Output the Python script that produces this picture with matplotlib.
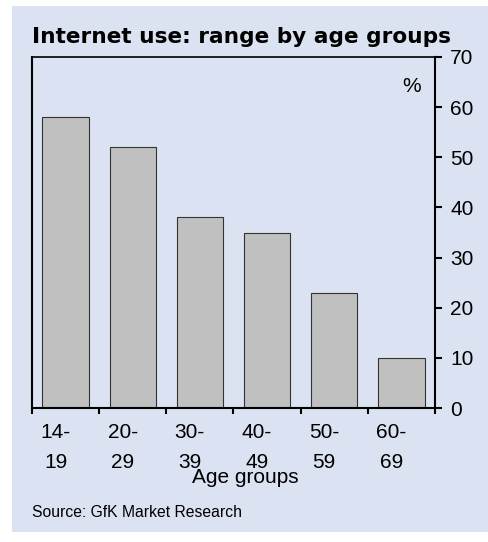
import numpy as np
import matplotlib.pyplot as plt
from matplotlib.patches import Rectangle

# Internet use by age group (GfK)
age_groups = ["14-\n19", "20-\n29", "30-\n39", "40-\n49", "50-\n59", "60-\n69"]
usage_pct = [58, 52, 38, 35, 23, 10]

bg = "#dbe2f1"
plt.rcParams["font.family"] = ["Liberation Sans", "DejaVu Sans"]

fig = plt.figure(figsize=(4.88, 5.42), dpi=100)
fig.patch.set_facecolor("white")
# light blue panel behind everything
fig.patches.append(Rectangle((12 / 488, 10 / 542), 476 / 488, 526 / 542,
                             transform=fig.transFigure, facecolor=bg,
                             edgecolor="none", zorder=-10))

ax = fig.add_axes([32 / 488, 134 / 542, 403 / 488, 351 / 542])
ax.set_facecolor(bg)

x = np.arange(len(usage_pct))
ax.bar(x, usage_pct, width=0.69, color="#c0c0c0", edgecolor="#333333", linewidth=0.8)

ax.set_xlim(-0.5, len(usage_pct) - 0.5)
ax.set_ylim(0, 70)

# y axis on the right
ax.yaxis.tick_right()
ax.set_yticks(range(0, 71, 10))
ax.tick_params(axis="y", direction="out", length=5, width=1.5, pad=6, labelsize=15)

# x: tick marks on group boundaries, labels in between
ax.set_xticks(np.arange(-0.5, len(usage_pct)), labels=[""] * (len(usage_pct) + 1))
ax.set_xticks(x - 0.15, labels=age_groups, minor=True)
ax.tick_params(axis="x", which="major", direction="out", length=4, width=1.5)
ax.tick_params(axis="x", which="minor", length=0, pad=11, labelsize=15)
for lbl in ax.get_xticklabels(minor=True):
    lbl.set_linespacing(1.7)

for s in ax.spines.values():
    s.set_linewidth(1.5)
ax.spines["top"].set_linewidth(1.2)

ax.set_xlabel("Age groups", fontsize=15)
ax.xaxis.set_label_coords(0.53, -0.172)
ax.xaxis.label.set_va("top")
ax.text(0.943, 0.917, "%", transform=ax.transAxes, fontsize=15, ha="center", va="center")

fig.text(32 / 488, 1 - 43 / 542, "Internet use: range by age groups",
         fontsize=15.6, fontweight="bold", family="DejaVu Sans", ha="left", va="baseline")
fig.text(32 / 488, 1 - 517 / 542, "Source: GfK Market Research",
         fontsize=11.3, ha="left", va="baseline")

fig.savefig("out.png", dpi=100, facecolor=fig.get_facecolor())
